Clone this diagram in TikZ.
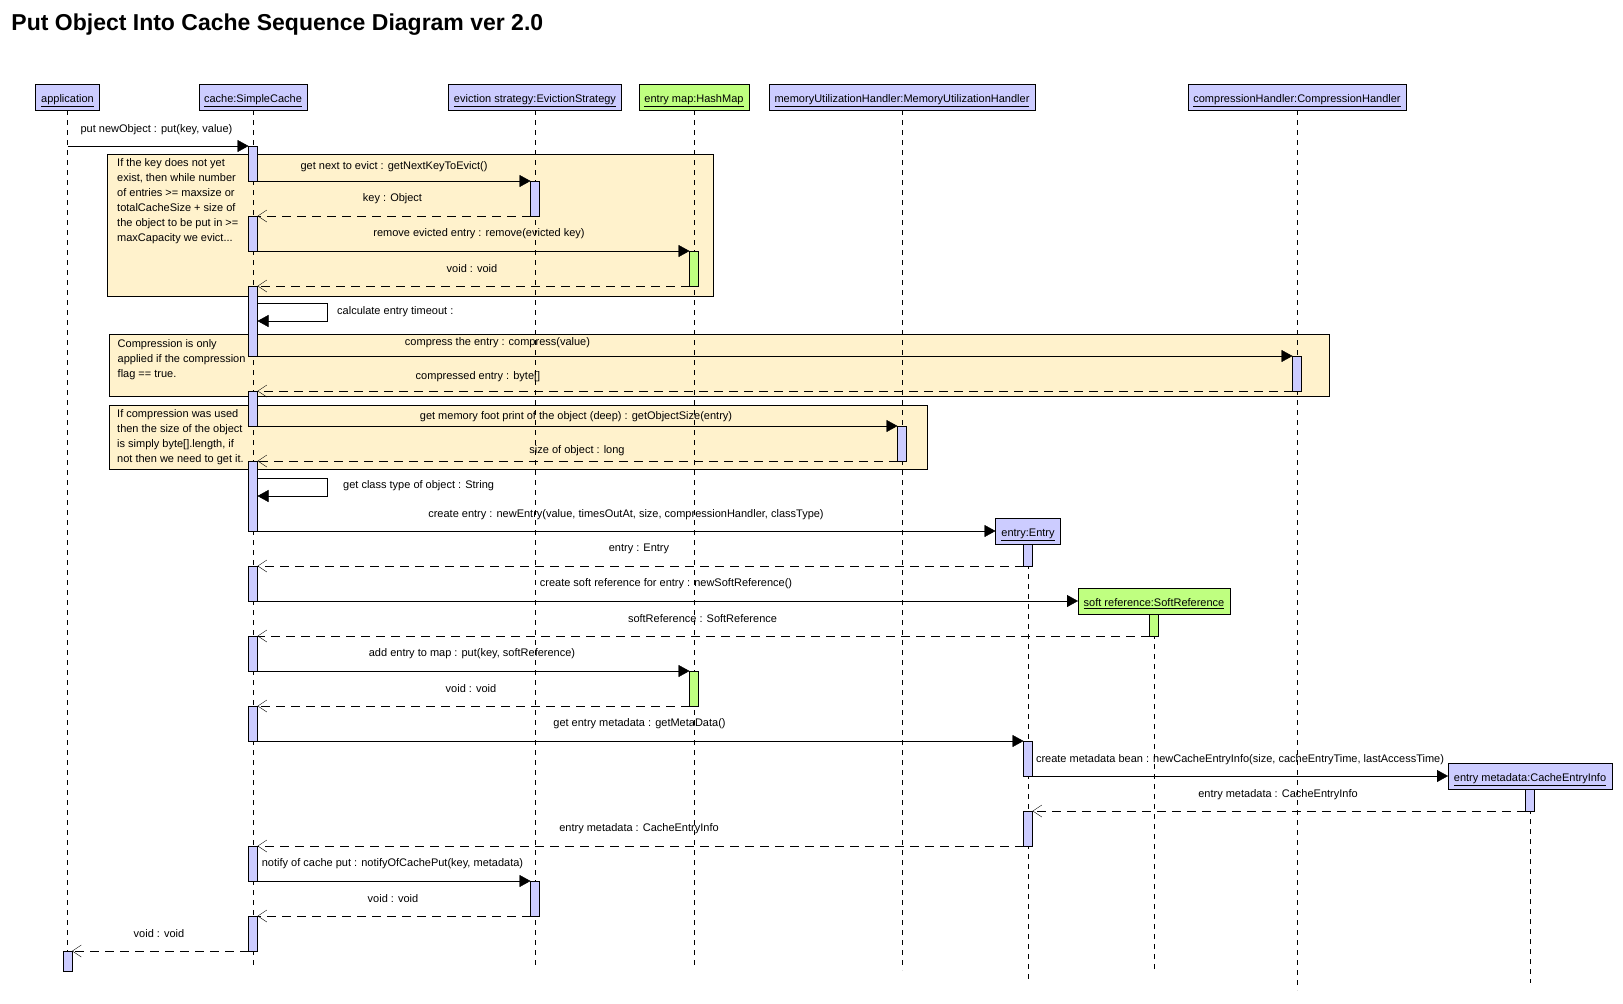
\documentclass[tikz,border=0pt]{standalone}
\usepackage{fontspec}
\setmainfont{Liberation Sans}
\usetikzlibrary{arrows.meta}
\pgfdeclarelayer{notelayer}
\pgfdeclarelayer{edgelayer}
\pgfdeclarelayer{nodelayer}
\pgfsetlayers{notelayer,edgelayer,nodelayer,main}
\definecolor{headblue}{HTML}{CCCCFF}
\definecolor{headgreen}{HTML}{BFFF80}
\definecolor{notefill}{HTML}{FFF2CC}
\tikzset{font=\fontsize{11}{15}\selectfont}
\tikzstyle{none}=[inner sep=0pt]
\tikzstyle{head}=[draw, fill=headblue, inner sep=0pt, outer sep=0pt, minimum height=26pt, text height=11pt, text depth=0pt]
\tikzstyle{greenhead}=[style=head, fill=headgreen]
\tikzstyle{act}=[draw, fill=headblue, inner sep=0pt, outer sep=0pt, minimum width=9pt]
\tikzstyle{greenact}=[style=act, fill=headgreen]
\tikzstyle{note}=[draw, fill=notefill, inner sep=0pt, anchor=north west]
\tikzstyle{notetext}=[inner sep=0pt, anchor=north west, align=left]
\tikzstyle{life}=[dash pattern=on 5pt off 5pt]
\tikzstyle{call}=[-{Triangle[length=11pt,width=12pt]}]
\tikzstyle{reply}=[dash pattern=on 9pt off 6pt, -{Straight Barb[length=9pt,width=12pt]}]

\begin{document}
\begin{tikzpicture}[x=1pt, y=-1pt, line width=1pt]
	\useasboundingbox (0,0) rectangle (1623,1004);
	\node [inner sep=0pt, anchor=base west, font=\fontsize{23}{23}\selectfont\bfseries] (title) at (11,30) {Put Object Into Cache Sequence Diagram ver 2.0};
	\begin{pgfonlayer}{notelayer}
		\node [style=note, minimum width=606pt, minimum height=142pt] (note1) at (107,154) {};
		\node [style=note, minimum width=1220pt, minimum height=62pt] (note2) at (109,334) {};
		\node [style=note, minimum width=818pt, minimum height=64pt] (note3) at (109,405) {};
	\end{pgfonlayer}
	\begin{pgfonlayer}{nodelayer}
		% lifeline heads
		\node [style=head, minimum width=64pt] (app) at (67.5,97) {\underline{application}};
		\node [style=head, minimum width=108pt] (cache) at (253,97) {\underline{cache:SimpleCache}};
		\node [style=head, minimum width=173pt] (evict) at (535,97) {\underline{eviction strategy:EvictionStrategy}};
		\node [style=greenhead, minimum width=110pt] (map) at (694,97) {\underline{entry map:HashMap}};
		\node [style=head, minimum width=266pt] (mem) at (902,97) {\underline{memoryUtilizationHandler:MemoryUtilizationHandler}};
		\node [style=head, minimum width=218pt] (comp) at (1297,97) {\underline{compressionHandler:CompressionHandler}};
		\node [style=head, minimum width=65pt] (entry) at (1028,531) {\underline{entry:Entry}};
		\node [style=greenhead, minimum width=152pt] (soft) at (1154,601) {\underline{soft reference:SoftReference}};
		\node [style=head, minimum width=164pt] (meta) at (1530,776) {\underline{entry metadata:CacheEntryInfo}};
		% lifeline ends
		\node [style=none] (0) at (67.5,971) {};
		\node [style=none] (1) at (253,969) {};
		\node [style=none] (2) at (535,969) {};
		\node [style=none] (3) at (694,969) {};
		\node [style=none] (4) at (902,970) {};
		\node [style=none] (5) at (1297,990) {};
		\node [style=none] (6) at (1028,983) {};
		\node [style=none] (7) at (1154,971) {};
		\node [style=none] (8) at (1530,983) {};
		% activation bars
		\node [style=act, minimum height=35pt] (c1) at (253,163.5) {};
		\node [style=act, minimum height=35pt] (c2) at (253,233.5) {};
		\node [style=act, minimum height=70pt] (c3) at (253,321) {};
		\node [style=act, minimum height=35pt] (c4) at (253,408.5) {};
		\node [style=act, minimum height=70pt] (c5) at (253,496) {};
		\node [style=act, minimum height=35pt] (c6) at (253,583.5) {};
		\node [style=act, minimum height=35pt] (c7) at (253,653.5) {};
		\node [style=act, minimum height=35pt] (c8) at (253,723.5) {};
		\node [style=act, minimum height=35pt] (c9) at (253,863.5) {};
		\node [style=act, minimum height=35pt] (c10) at (253,933.5) {};
		\node [style=act, minimum height=20pt] (a1) at (67.5,961) {};
		\node [style=act, minimum height=35pt] (e1) at (535,198.5) {};
		\node [style=act, minimum height=35pt] (e2) at (535,898.5) {};
		\node [style=greenact, minimum height=35pt] (h1) at (694,268.5) {};
		\node [style=greenact, minimum height=35pt] (h2) at (694,688.5) {};
		\node [style=act, minimum height=35pt] (p1) at (1297,373.5) {};
		\node [style=act, minimum height=35pt] (m1) at (902,443.5) {};
		\node [style=act, minimum height=22pt] (n1) at (1028,555) {};
		\node [style=act, minimum height=35pt] (n2) at (1028,758.5) {};
		\node [style=act, minimum height=35pt] (n3) at (1028,828.5) {};
		\node [style=greenact, minimum height=22pt] (s1) at (1154,625) {};
		\node [style=act, minimum height=22pt] (d1) at (1530,800) {};
		% free ends of the put call and the self calls
		\node [style=none] (9) at (67.5,146) {};
		\node [style=none] (10) at (257.5,303) {};
		\node [style=none] (11) at (327,303) {};
		\node [style=none] (12) at (327,321) {};
		\node [style=none] (13) at (257.5,321) {};
		\node [style=none] (14) at (257.5,478) {};
		\node [style=none] (15) at (327,478) {};
		\node [style=none] (16) at (327,496) {};
		\node [style=none] (17) at (257.5,496) {};
		% notes
		\node [style=notetext] (n1text) at (117,158) {If the key does not yet\\exist, then while number\\of entries >= maxsize or\\totalCacheSize + size of\\the object to be put in >=\\maxCapacity we evict...};
		\node [style=notetext] (n2text) at (117.5,339) {Compression is only\\applied if the compression\\flag == true.};
		\node [style=notetext] (n3text) at (117,409) {If compression was used\\then the size of the object\\is simply byte[].length, if\\not then we need to get it.};
		% message labels
		\node [style=none] (18) at (156.5,130) {put newObject : put(key, value)};
		\node [style=none] (19) at (394,167) {get next to evict : getNextKeyToEvict()};
		\node [style=none] (20) at (392.5,199) {key : Object};
		\node [style=none] (21) at (479,234) {remove evicted entry : remove(evicted key)};
		\node [style=none] (22) at (472,269) {void : void};
		\node [style=none, anchor=west] (23) at (337,312) {calculate entry timeout :};
		\node [style=none] (24) at (497.5,343) {compress the entry : compress(value)};
		\node [style=none] (25) at (478,377) {compressed entry : byte[]};
		\node [style=none] (26) at (576,417) {get memory foot print of the object (deep) : getObjectSize(entry)};
		\node [style=none] (27) at (577,451) {size of object : long};
		\node [style=none, anchor=west] (28) at (343,486) {get class type of object : String};
		\node [style=none] (29) at (626,515) {create entry : newEntry(value, timesOutAt, size, compressionHandler, classType)};
		\node [style=none] (30) at (639,549) {entry : Entry};
		\node [style=none] (31) at (666,584) {create soft reference for entry : newSoftReference()};
		\node [style=none] (32) at (702.5,619) {softReference : SoftReference};
		\node [style=none] (33) at (472,654) {add entry to map : put(key, softReference)};
		\node [style=none] (34) at (471,689) {void : void};
		\node [style=none] (35) at (639.5,724) {get entry metadata : getMetaData()};
		\node [style=none] (36) at (1240,760) {create metadata bean : newCacheEntryInfo(size, cacheEntryTime, lastAccessTime)};
		\node [style=none] (37) at (1278,795) {entry metadata : CacheEntryInfo};
		\node [style=none] (38) at (639,829) {entry metadata : CacheEntryInfo};
		\node [style=none] (39) at (392.5,864) {notify of cache put : notifyOfCachePut(key, metadata)};
		\node [style=none] (40) at (393,899) {void : void};
		\node [style=none] (41) at (159,934) {void : void};
	\end{pgfonlayer}
	\begin{pgfonlayer}{edgelayer}
		\draw [style=life] (app.south) to (0.center);
		\draw [style=life] (cache.south) to (1.center);
		\draw [style=life] (evict.south) to (2.center);
		\draw [style=life] (map.south) to (3.center);
		\draw [style=life] (mem.south) to (4.center);
		\draw [style=life] (comp.south) to (5.center);
		\draw [style=life] (entry.south) to (6.center);
		\draw [style=life] (soft.south) to (7.center);
		\draw [style=life] (meta.south) to (8.center);
		\draw [style=call] (9.center) to (c1.north west);
		\draw [style=call] (c1.south east) to (e1.north west);
		\draw [style=reply] (e1.south west) to (c2.north east);
		\draw [style=call] (c2.south east) to (h1.north west);
		\draw [style=reply] (h1.south west) to (c3.north east);
		\draw [style=call] (10.center) to (11.center) to (12.center) to (13.center);
		\draw [style=call] (c3.south east) to (p1.north west);
		\draw [style=reply] (p1.south west) to (c4.north east);
		\draw [style=call] (c4.south east) to (m1.north west);
		\draw [style=reply] (m1.south west) to (c5.north east);
		\draw [style=call] (14.center) to (15.center) to (16.center) to (17.center);
		\draw [style=call] (c5.south east) to (entry.west);
		\draw [style=reply] (n1.south west) to (c6.north east);
		\draw [style=call] (c6.south east) to (soft.west);
		\draw [style=reply] (s1.south west) to (c7.north east);
		\draw [style=call] (c7.south east) to (h2.north west);
		\draw [style=reply] (h2.south west) to (c8.north east);
		\draw [style=call] (c8.south east) to (n2.north west);
		\draw [style=call] (n2.south east) to (meta.west);
		\draw [style=reply] (d1.south west) to (n3.north east);
		\draw [style=reply] (n3.south west) to (c9.north east);
		\draw [style=call] (c9.south east) to (e2.north west);
		\draw [style=reply] (e2.south west) to (c10.north east);
		\draw [style=reply] (c10.south west) to (a1.north east);
	\end{pgfonlayer}
\end{tikzpicture}
\end{document}
